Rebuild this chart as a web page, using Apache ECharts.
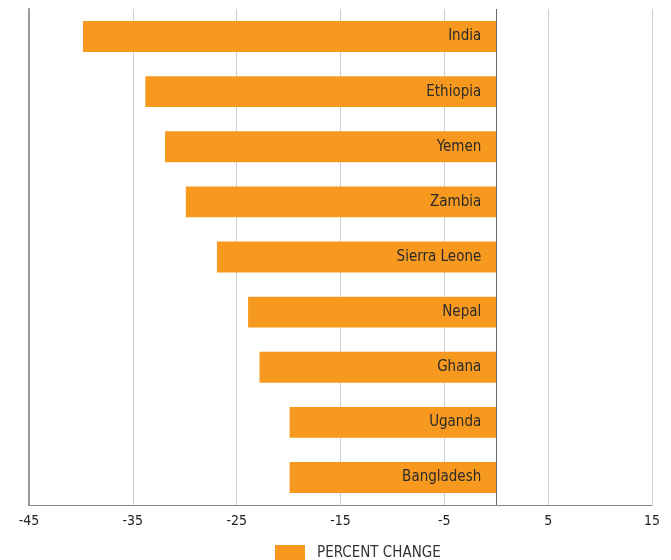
<!DOCTYPE html>
<html><head><meta charset="utf-8">
<script src="https://cdn.jsdelivr.net/npm/echarts@6/dist/echarts.min.js"></script>
<style>html,body{margin:0;padding:0;background:#fff}#c{width:671px;height:560px}</style>
</head><body><div id="c"></div>
<script>
const categories = ['India','Ethiopia','Yemen','Zambia','Sierra Leone','Nepal','Ghana','Uganda','Bangladesh'];
const percentChange = [-39.8,-33.8,-31.9,-29.9,-26.9,-23.9,-22.8,-19.9,-19.9];
const seriesName = 'PERCENT CHANGE';
const FONT = '"Liberation Sans Narrow","DejaVu Sans Condensed","Roboto",sans-serif';
const chart = echarts.init(document.getElementById('c'));
chart.setOption({
  animation:false,
  textStyle:{fontFamily:FONT},
  grid:{left:29,right:19,top:9,bottom:55,containLabel:false},
  legend:{top:540,left:270,itemWidth:30,itemHeight:16,icon:'rect',
    textStyle:{fontFamily:FONT,fontSize:15,color:'#333',padding:[0,0,0,7]},data:[seriesName]},
  xAxis:{type:'value',min:-45,max:15,interval:10,
    axisLine:{show:true,onZero:false,lineStyle:{color:'#888',width:1}},
    axisTick:{show:false},
    axisLabel:{color:'#222',fontSize:14,fontFamily:FONT,margin:9},
    splitLine:{show:true,lineStyle:{color:'#cfcfcf',width:1}}},
  yAxis:{type:'category',data:categories,inverse:true,
    axisLine:{show:true,onZero:false,lineStyle:{color:'#999',width:2}},
    axisTick:{show:false},axisLabel:{show:false},splitLine:{show:false}},
  series:[{name:seriesName,type:'bar',data:percentChange,barWidth:'56%',
    itemStyle:{color:'#F7991F'},
    label:{show:true,position:'insideRight',formatter:'{b}',color:'#2a2a2a',fontSize:15,fontFamily:FONT,distance:15},
    markLine:{silent:true,symbol:'none',label:{show:false},
      lineStyle:{color:'#666',type:'solid',width:1},data:[{xAxis:0}]}
  }]
});
</script></body></html>
